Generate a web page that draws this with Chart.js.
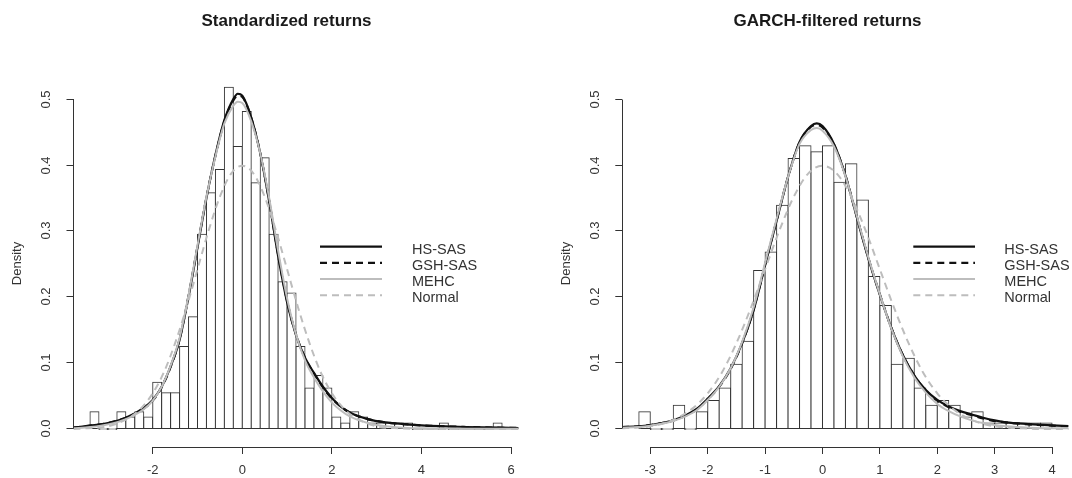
<!DOCTYPE html>
<html>
<head>
<meta charset="utf-8">
<title>Return densities</title>
<script src="https://cdn.jsdelivr.net/npm/chart.js@4.4.0/dist/chart.umd.min.js"></script>
<style>
  html, body { margin: 0; padding: 0; background: #fff; overflow: hidden; }
  .panel { position: absolute; top: 0; width: 536px; height: 478px; }
  #leftPanel { left: 0; }
  #rightPanel { left: 536px; }
</style>
</head>
<body>
<div class="panel" id="leftPanel"><canvas id="stdChart"></canvas></div>
<div class="panel" id="rightPanel"><canvas id="garchChart"></canvas></div>
<script>
// ---- standardized returns ----
const stdBinMids = [-3.3, -3.1, -2.9, -2.7, -2.5, -2.3, -2.1, -1.9, -1.7, -1.5, -1.3, -1.1, -0.9, -0.7, -0.5, -0.3,
  -0.1, 0.1, 0.3, 0.5, 0.7, 0.9, 1.1, 1.3, 1.5, 1.7, 1.9, 2.1, 2.3, 2.5, 2.7, 2.9, 3.1, 3.3, 3.5, 3.7, 3.9,
  4.1, 4.3, 4.5, 4.7, 4.9, 5.1, 5.3, 5.5, 5.7];
const stdDensity = [0.026, 0, 0, 0.026, 0.018, 0.026, 0.018, 0.071, 0.055, 0.055, 0.125, 0.170, 0.295, 0.358, 0.393, 0.518,
  0.428, 0.481, 0.373, 0.411, 0.295, 0.223, 0.206, 0.125, 0.062, 0.081, 0.062, 0.018, 0.009, 0.026, 0.018, 0.009, 0.009, 0.009, 0.009, 0.009, 0,
  0, 0, 0.009, 0, 0, 0, 0, 0, 0.009];

const stdCurveX = [-3.77, -3.4, -3.0, -2.6, -2.2, -2.0, -1.8, -1.6, -1.4, -1.2, -1.0, -0.8, -0.6, -0.4, -0.2, -0.1, 0.0,
  0.2, 0.4, 0.6, 0.8, 1.0, 1.2, 1.4, 1.6, 1.8, 2.0, 2.2, 2.4, 2.8, 3.2, 3.6, 4.0, 5.0, 6.17];
const stdHsSas = [0.002, 0.005, 0.009, 0.017, 0.032, 0.044, 0.064, 0.095, 0.135, 0.200, 0.275, 0.350, 0.415, 0.468, 0.500, 0.508, 0.505,
  0.472, 0.418, 0.345, 0.262, 0.192, 0.142, 0.108, 0.085, 0.064, 0.047, 0.034, 0.025, 0.015, 0.010, 0.0075, 0.0055, 0.003, 0.0015];
const stdGshSas = [0.002, 0.005, 0.009, 0.017, 0.031, 0.043, 0.063, 0.094, 0.136, 0.202, 0.277, 0.351, 0.414, 0.466, 0.498, 0.505, 0.503,
  0.471, 0.418, 0.346, 0.264, 0.194, 0.143, 0.108, 0.084, 0.063, 0.046, 0.034, 0.025, 0.015, 0.010, 0.0075, 0.0055, 0.003, 0.0015];
const stdMehc = [0.001, 0.003, 0.007, 0.015, 0.030, 0.043, 0.064, 0.096, 0.138, 0.203, 0.278, 0.352, 0.413, 0.463, 0.490, 0.496, 0.494,
  0.466, 0.418, 0.350, 0.270, 0.198, 0.143, 0.104, 0.078, 0.057, 0.040, 0.028, 0.019, 0.009, 0.004, 0.002, 0.001, 0.0005, 0.0003];
const stdNormalX = [-3.77, -3.5, -3.0, -2.5, -2.25, -2.0, -1.75, -1.5, -1.25, -1.0, -0.75, -0.5, -0.25, 0, 0.25, 0.5, 0.75,
  1.0, 1.25, 1.5, 1.75, 2.0, 2.25, 2.5, 3.0, 3.5, 4.0, 5.0, 6.17];
const stdNormal = [0.000, 0.001, 0.004, 0.018, 0.032, 0.054, 0.086, 0.130, 0.183, 0.242, 0.301, 0.352, 0.387, 0.399, 0.387, 0.352, 0.301,
  0.242, 0.183, 0.130, 0.086, 0.054, 0.032, 0.018, 0.004, 0.001, 0.000, 0.000, 0.000];

// ---- GARCH-filtered returns ----
const garchBinMids = [-3.1, -2.9, -2.7, -2.5, -2.3, -2.1, -1.9, -1.7, -1.5, -1.3, -1.1, -0.9, -0.7, -0.5, -0.3, -0.1,
  0.1, 0.3, 0.5, 0.7, 0.9, 1.1, 1.3, 1.5, 1.7, 1.9, 2.1, 2.3, 2.5, 2.7, 2.9, 3.1, 3.3, 3.5, 3.7, 3.9];
const garchDensity = [0.026, 0, 0, 0.036, 0, 0.026, 0.043, 0.062, 0.098, 0.133, 0.240, 0.268, 0.339, 0.410, 0.429, 0.420,
  0.429, 0.374, 0.402, 0.347, 0.231, 0.187, 0.098, 0.107, 0.062, 0.036, 0.043, 0.036, 0.018, 0.026, 0.009, 0.009, 0.009, 0.009, 0.009, 0.009];

const garchCurveX = [-3.49, -3.2, -3.0, -2.6, -2.2, -2.0, -1.8, -1.6, -1.4, -1.2, -1.0, -0.8, -0.6, -0.4, -0.2, -0.1, 0.0,
  0.2, 0.4, 0.6, 0.8, 1.0, 1.2, 1.4, 1.6, 1.8, 2.0, 2.2, 2.4, 2.6, 2.8, 3.0, 3.2, 3.6, 4.0, 4.29];
const garchHsSas = [0.003, 0.004, 0.006, 0.013, 0.030, 0.046, 0.065, 0.092, 0.130, 0.180, 0.248, 0.315, 0.382, 0.435, 0.459, 0.463, 0.459,
  0.432, 0.384, 0.320, 0.258, 0.203, 0.153, 0.112, 0.081, 0.059, 0.044, 0.034, 0.027, 0.022, 0.017, 0.013, 0.010, 0.0075, 0.0055, 0.0045];
const garchGshSas = [0.003, 0.004, 0.006, 0.013, 0.029, 0.045, 0.064, 0.091, 0.130, 0.181, 0.249, 0.316, 0.382, 0.434, 0.458, 0.461, 0.457,
  0.431, 0.384, 0.321, 0.259, 0.204, 0.153, 0.112, 0.081, 0.058, 0.043, 0.033, 0.026, 0.021, 0.016, 0.012, 0.010, 0.007, 0.005, 0.004];
const garchMehc = [0.002, 0.003, 0.005, 0.012, 0.028, 0.044, 0.064, 0.092, 0.132, 0.184, 0.252, 0.318, 0.382, 0.432, 0.453, 0.456, 0.452,
  0.428, 0.383, 0.322, 0.260, 0.204, 0.152, 0.110, 0.078, 0.055, 0.038, 0.027, 0.019, 0.013, 0.009, 0.006, 0.004, 0.002, 0.001, 0.001];
const garchNormalX = [-3.49, -3.25, -3.0, -2.75, -2.5, -2.25, -2.0, -1.75, -1.5, -1.25, -1.0, -0.75, -0.5, -0.25, 0,
  0.25, 0.5, 0.75, 1.0, 1.25, 1.5, 1.75, 2.0, 2.25, 2.5, 2.75, 3.0, 3.25, 3.5, 3.75, 4.0, 4.29];
const garchNormal = [0.001, 0.002, 0.004, 0.009, 0.018, 0.032, 0.054, 0.086, 0.130, 0.183, 0.242, 0.301, 0.352, 0.387, 0.399,
  0.387, 0.352, 0.301, 0.242, 0.183, 0.130, 0.086, 0.054, 0.032, 0.018, 0.009, 0.004, 0.002, 0.001, 0.000, 0.000, 0.000];

const FONT = '"Liberation Sans", Arial, Helvetica, sans-serif';
const INK = '#333';
const GREY = '#bdbdbd';

Chart.defaults.font.family = FONT;
Chart.defaults.font.size = 13;
Chart.defaults.color = INK;
Chart.defaults.elements.point.radius = 0;
Chart.defaults.elements.line.cubicInterpolationMode = 'monotone';

// base-graphics style axes (line only between end ticks), rotated y labels,
// the main title and a boxless legend
const rAxes = {
  id: 'rAxes',
  afterDraw(chart, args, opts) {
    const {ctx, chartArea: area} = chart;
    const xs = chart.scales.x, ys = chart.scales.y;
    const crisp = v => Math.round(v - 0.5) + 0.5;
    const xPix = xs.ticks.map(t => crisp(xs.getPixelForValue(t.value)));
    const yPix = ys.ticks.map(t => crisp(ys.getPixelForValue(t.value)));
    const bottom = crisp(area.bottom), left = crisp(area.left);

    ctx.save();
    ctx.strokeStyle = INK;
    ctx.lineWidth = 1;
    ctx.beginPath();
    ctx.moveTo(xPix[0], bottom);
    ctx.lineTo(xPix[xPix.length - 1], bottom);
    ctx.moveTo(left, yPix[0]);
    ctx.lineTo(left, yPix[yPix.length - 1]);
    ctx.stroke();

    ctx.fillStyle = INK;
    ctx.font = '13px ' + FONT;
    ctx.textAlign = 'center';
    ctx.textBaseline = 'middle';
    ys.ticks.forEach((t, i) => {
      ctx.save();
      ctx.translate(area.left - opts.yLabelGap, yPix[i]);
      ctx.rotate(-Math.PI / 2);
      ctx.fillText(t.value.toFixed(1), 0, 0);
      ctx.restore();
    });

    ctx.fillStyle = '#1a1a1a';
    ctx.font = 'bold 17px ' + FONT;
    ctx.textBaseline = 'alphabetic';
    ctx.fillText(opts.title, opts.titleX, opts.titleY);

    const lines = chart.data.datasets.filter(d => d.type === 'line');
    ctx.font = '14.5px ' + FONT;
    ctx.textAlign = 'left';
    lines.forEach((d, i) => {
      const y = opts.legendTop + i * opts.legendStep;
      ctx.save();
      ctx.strokeStyle = d.borderColor;
      ctx.lineWidth = d.borderWidth;
      ctx.setLineDash(d.borderDash || []);
      ctx.beginPath();
      ctx.moveTo(opts.legendX0, y);
      ctx.lineTo(opts.legendX1, y);
      ctx.stroke();
      ctx.restore();
      ctx.fillStyle = INK;
      ctx.fillText(d.label, opts.legendTextX, y + 7);
    });
    ctx.restore();
  }
};

const pts = (xs, ys) => xs.map((x, i) => ({x, y: ys[i]}));

function densityChart(id, s) {
  return new Chart(document.getElementById(id), {
    type: 'bar',
    data: {
      datasets: [
        { type: 'line', label: 'HS-SAS', data: pts(s.curveX, s.hsSas), borderColor: '#111', borderWidth: 2.2, order: 4 },
        { type: 'line', label: 'GSH-SAS', data: pts(s.curveX, s.gshSas), borderColor: '#111', borderWidth: 2.2, borderDash: [7, 5], order: 3 },
        { type: 'line', label: 'MEHC', data: pts(s.curveX, s.mehc), borderColor: GREY, borderWidth: 2, order: 2 },
        { type: 'line', label: 'Normal', data: pts(s.normalX, s.normal), borderColor: GREY, borderWidth: 2, borderDash: [7, 5], order: 1 },
        {
          // white fill covers the inner half of the inflated border, so shared
          // edges between neighbouring bins end up a single pixel wide
          type: 'bar', label: 'histogram', data: pts(s.binMids, s.density),
          backgroundColor: '#fff', borderColor: INK, borderWidth: 1, borderSkipped: false,
          inflateAmount: 0.5, barPercentage: 1, categoryPercentage: 1, minBarLength: 1, order: 5
        }
      ]
    },
    options: {
      responsive: true,
      maintainAspectRatio: false,
      animation: false,
      events: [],
      layout: { padding: s.padding },
      scales: {
        x: {
          type: 'linear', min: s.xMin, max: s.xMax, offset: false,
          ticks: { stepSize: s.xStep, includeBounds: false, autoSkip: false, maxRotation: 0, padding: 9, color: INK },
          grid: { drawOnChartArea: false, tickLength: 7, color: INK, offset: false },
          border: { display: false },
          afterFit: sc => { sc.height = 31; }
        },
        y: {
          type: 'linear', min: -0.0273, max: 0.5288,
          ticks: { stepSize: 0.1, includeBounds: false, display: false },
          grid: { drawOnChartArea: false, tickLength: 7, color: INK },
          border: { display: false },
          title: { display: true, text: 'Density', color: INK, font: { size: 13 }, padding: { top: 10, bottom: 0 } },
          afterFit: sc => { sc.width = 73.5; }
        }
      },
      plugins: {
        legend: { display: false },
        tooltip: { enabled: false },
        rAxes: {
          title: s.title, titleX: s.titleX, titleY: 26, yLabelGap: 27,
          legendX0: s.legendX0, legendX1: s.legendX1, legendTextX: s.legendTextX,
          legendTop: 246.7, legendStep: 16.2
        }
      }
    },
    plugins: [rAxes]
  });
}

densityChart('stdChart', {
  title: 'Standardized returns', titleX: 286.5,
  binMids: stdBinMids, density: stdDensity,
  curveX: stdCurveX, hsSas: stdHsSas, gshSas: stdGshSas, mehc: stdMehc,
  normalX: stdNormalX, normal: stdNormal,
  xMin: -3.768, xMax: 6.168, xStep: 2,
  padding: { left: 0, right: 17.4, top: 80, bottom: 0 },
  legendX0: 320, legendX1: 382, legendTextX: 412
});

densityChart('garchChart', {
  title: 'GARCH-filtered returns', titleX: 291.5,
  binMids: garchBinMids, density: garchDensity,
  curveX: garchCurveX, hsSas: garchHsSas, gshSas: garchGshSas, mehc: garchMehc,
  normalX: garchNormalX, normal: garchNormal,
  xMin: -3.488, xMax: 4.288, xStep: 1,
  padding: { left: 12.8, right: 3.4, top: 80, bottom: 0 },
  legendX0: 377.3, legendX1: 439, legendTextX: 468.3
});
</script>
</body>
</html>
